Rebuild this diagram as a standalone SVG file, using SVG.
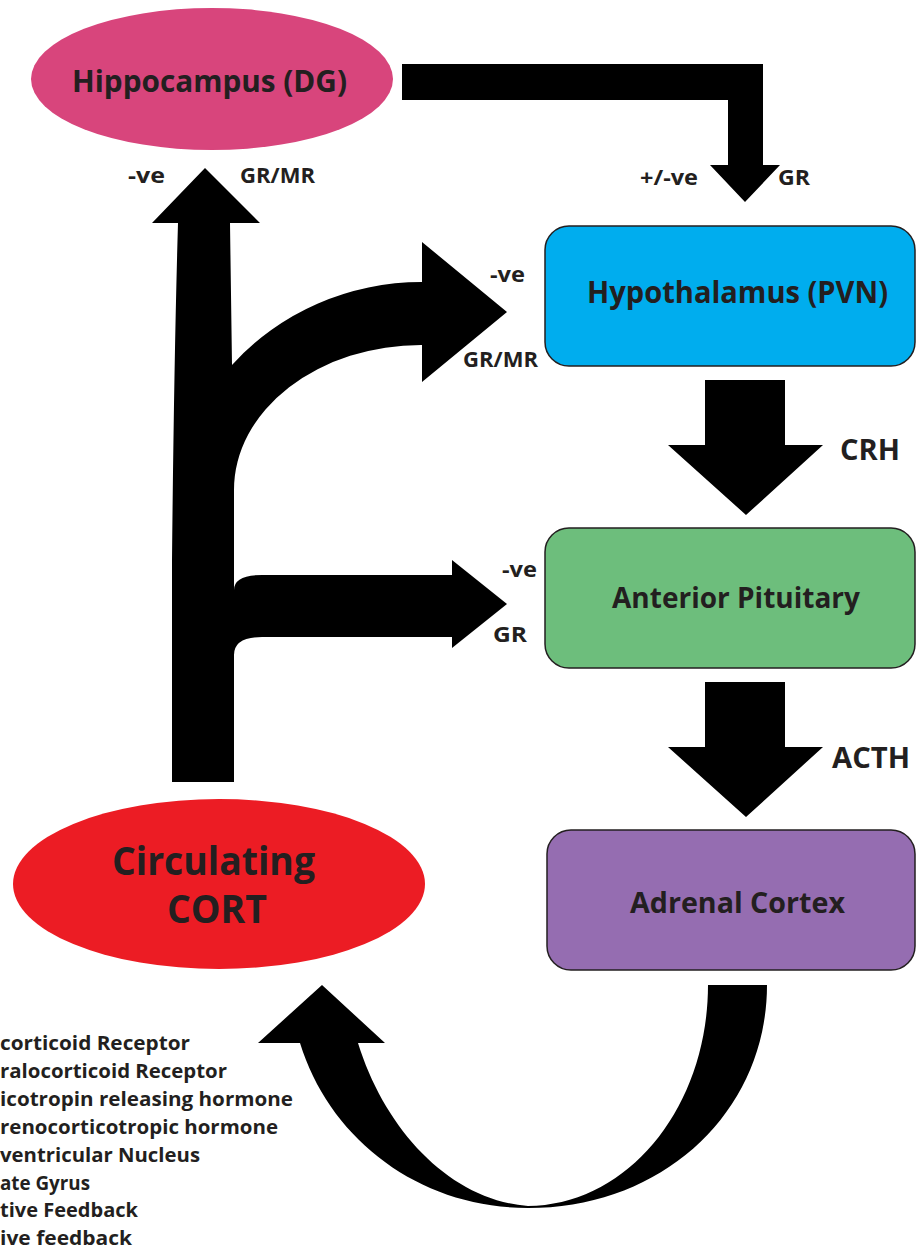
<svg xmlns="http://www.w3.org/2000/svg" width="916" height="1252" viewBox="0 0 916 1252">
<style>
text{font-family:"Open Sans","Liberation Sans",sans-serif;font-weight:700;fill:#231F20}
.box{stroke:#231F20;stroke-width:1.5}
.arr{fill:#000}
.lbl{font-size:21px}
.leg{font-size:19px}
</style>
<rect width="916" height="1252" fill="#fff"/>
<g id="connectors">
  <path class="arr" d="M402,64 L763,64 L763,165 L780,165 L745,202 L710,165 L728,165 L728,100 L402,100 Z"/>
  <path class="arr" d="M205,168 L260,223 L230,223 L232,365 A250,238 0 0 1 422,282 L422,242 L507,312 L422,382 L422,345 A187,145 0 0 0 234,490 L234,590 Q234,575 262,575 L452,575 L452,560 L507,604 L452,648 L452,637 L262,637 Q234,637 234,655 L234,782 L172,782 L172,560 Q174,360 178,223 L152,223 Z"/>
  <path class="arr" d="M705,380 L785,380 L785,445 L823,445 L746,515 L668,445 L705,445 Z"/>
  <path class="arr" d="M705,682 L785,682 L785,747 L823,747 L746,817 L668,747 L705,747 Z"/>
  <path class="arr" d="M708,985 L767,985 C767,1110 665,1208 528,1208 C420,1208 330,1140 300,1043 L258,1043 L322,985 L385,1043 L358,1043 C385,1130 450,1200 528,1206 C630,1205 708,1105 708,985 Z"/>
  <text class="lbl" x="128" y="183" textLength="37" lengthAdjust="spacingAndGlyphs">-ve</text>
  <text class="lbl" x="240" y="183" textLength="75" lengthAdjust="spacingAndGlyphs">GR/MR</text>
  <text class="lbl" x="640" y="185" textLength="58" lengthAdjust="spacingAndGlyphs">+/-ve</text>
  <text class="lbl" x="778" y="185" textLength="32" lengthAdjust="spacingAndGlyphs">GR</text>
  <text class="lbl" x="490" y="282" textLength="35" lengthAdjust="spacingAndGlyphs">-ve</text>
  <text class="lbl" x="463" y="367" textLength="75" lengthAdjust="spacingAndGlyphs">GR/MR</text>
  <text class="lbl" x="502" y="577" textLength="35" lengthAdjust="spacingAndGlyphs">-ve</text>
  <text class="lbl" x="493" y="642" textLength="34" lengthAdjust="spacingAndGlyphs">GR</text>
  <text x="840" y="460" font-size="28" textLength="60" lengthAdjust="spacingAndGlyphs">CRH</text>
  <text x="832" y="768" font-size="28" textLength="78" lengthAdjust="spacingAndGlyphs">ACTH</text>
</g>
<g id="hippocampus">
  <ellipse cx="212" cy="79" rx="181" ry="71" fill="#D8457C"/>
  <text x="72" y="92" font-size="30" textLength="275" lengthAdjust="spacingAndGlyphs">Hippocampus (DG)</text>
</g>
<g id="hypothalamus">
  <rect class="box" x="545" y="226" width="370" height="140" rx="24" fill="#00ADEE"/>
  <text x="587" y="303" font-size="31" textLength="301" lengthAdjust="spacingAndGlyphs">Hypothalamus (PVN)</text>
</g>
<g id="pituitary">
  <rect class="box" x="545" y="528" width="370" height="140" rx="24" fill="#6DBE7C"/>
  <text x="612" y="608" font-size="28" textLength="248" lengthAdjust="spacingAndGlyphs">Anterior Pituitary</text>
</g>
<g id="adrenal">
  <rect class="box" x="547" y="830" width="368" height="140" rx="24" fill="#956DB1"/>
  <text x="630" y="913" font-size="29" textLength="215" lengthAdjust="spacingAndGlyphs">Adrenal Cortex</text>
</g>
<g id="cort">
  <ellipse cx="219" cy="884" rx="206" ry="85" fill="#EC1C24"/>
  <text x="112" y="875" font-size="39" textLength="203" lengthAdjust="spacingAndGlyphs">Circulating</text>
  <text x="167" y="923" font-size="39" textLength="100" lengthAdjust="spacingAndGlyphs">CORT</text>
</g>
<g id="legend">
  <text class="leg" x="0" y="1050" textLength="190" lengthAdjust="spacingAndGlyphs">corticoid Receptor</text>
  <text class="leg" x="0" y="1078" textLength="227" lengthAdjust="spacingAndGlyphs">ralocorticoid Receptor</text>
  <text class="leg" x="0" y="1106" textLength="293" lengthAdjust="spacingAndGlyphs">icotropin releasing hormone</text>
  <text class="leg" x="0" y="1134" textLength="278" lengthAdjust="spacingAndGlyphs">renocorticotropic hormone</text>
  <text class="leg" x="0" y="1162" textLength="200" lengthAdjust="spacingAndGlyphs">ventricular Nucleus</text>
  <text class="leg" x="0" y="1190" textLength="90" lengthAdjust="spacingAndGlyphs">ate Gyrus</text>
  <text class="leg" x="0" y="1217" textLength="138" lengthAdjust="spacingAndGlyphs">tive Feedback</text>
  <text class="leg" x="0" y="1245" textLength="132" lengthAdjust="spacingAndGlyphs">ive feedback</text>
</g>
</svg>
